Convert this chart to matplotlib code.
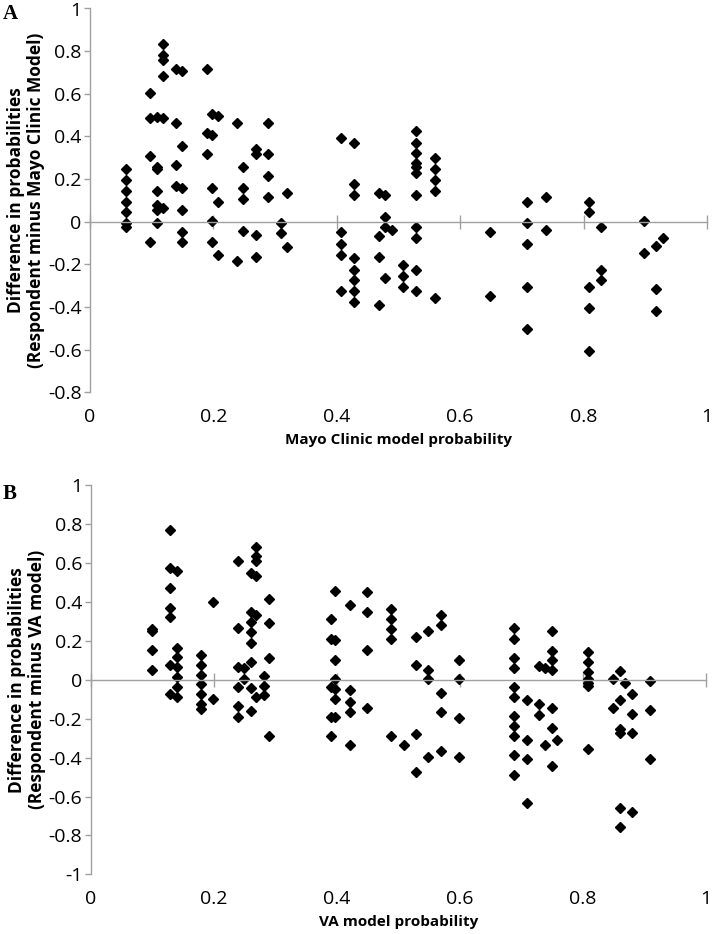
import matplotlib
matplotlib.use("Agg")
import matplotlib.pyplot as plt
import numpy as np

# ---------------- Panel A data (Mayo Clinic) ----------------
mayo_x = [0.058]*7 + [0.098]*4 + [0.108]*7 + [0.119]*6 + [0.139]*4 + [0.149]*6 \
    + [0.189]*3 + [0.197]*5 + [0.208]*3 + [0.238]*2 + [0.248]*4 + [0.269]*4 \
    + [0.289]*4 + [0.309]*2 + [0.319]*2 + [0.407]*5 + [0.428]*8 + [0.469]*4 \
    + [0.478]*4 + [0.489]*1 + [0.508]*3 + [0.529]*11 + [0.559]*5 + [0.649]*2 \
    + [0.709]*5 + [0.739]*2 + [0.808]*5 + [0.829]*3 + [0.898]*2 + [0.918]*3 + [0.929]*1
mayo_y = [0.245, 0.195, 0.144, 0.094, 0.044, -0.005, -0.026,
          0.605, 0.485, 0.308, -0.094,
          0.489, 0.258, 0.245, 0.144, 0.078, 0.055, -0.005,
          0.833, 0.781, 0.758, 0.685, 0.485, 0.063,
          0.716, 0.464, 0.266, 0.169,
          0.708, 0.355, 0.156, 0.055, -0.047, -0.094,
          0.716, 0.414, 0.316,
          0.505, 0.406, 0.156, 0.003, -0.094,
          0.496, 0.094, -0.156,
          0.464, -0.183,
          0.258, 0.156, 0.105, -0.044,
          0.339, 0.316, -0.062, -0.164,
          0.464, 0.316, 0.216, 0.117,
          -0.005, -0.055,
          0.133, -0.117,
          0.394, -0.047, -0.106, -0.156, -0.325,
          0.370, 0.175, 0.125, -0.172, -0.226, -0.275, -0.325, -0.376,
          0.133, -0.066, -0.164, -0.390,
          0.125, 0.024, -0.026, -0.266,
          -0.039,
          -0.203, -0.255, -0.306,
          0.425, 0.370, 0.324, 0.277, 0.258, 0.227, 0.125, -0.026, -0.075, -0.226, -0.325,
          0.297, 0.245, 0.195, 0.144, -0.356,
          -0.047, -0.347,
          0.094, -0.005, -0.103, -0.306, -0.503,
          0.114, -0.039,
          0.094, 0.044, -0.306, -0.406, -0.605,
          -0.026, -0.226, -0.275,
          0.003, -0.145,
          -0.114, -0.316, -0.417,
          -0.075]

# ---------------- Panel B data (VA) ----------------
va_x = [0.100]*4 + [0.129]*7 + [0.141]*7 + [0.179]*7 + [0.199]*2 + [0.240]*6 \
    + [0.249]*2 + [0.260]*8 + [0.269]*6 + [0.281]*3 + [0.290]*4 + [0.390]*5 \
    + [0.398]*7 + [0.421]*5 + [0.450]*4 + [0.489]*5 + [0.509]*1 + [0.529]*4 \
    + [0.549]*4 + [0.570]*5 + [0.599]*4 + [0.689]*11 + [0.709]*4 + [0.729]*3 \
    + [0.739]*2 + [0.750]*7 + [0.759]*1 + [0.808]*7 + [0.849]*2 + [0.860]*6 \
    + [0.869]*1 + [0.880]*4 + [0.909]*3
va_y = [0.26, 0.25, 0.15, 0.05,
        0.77, 0.575, 0.47, 0.37, 0.32, 0.075, -0.075,
        0.56, 0.165, 0.115, 0.064, 0.015, -0.036, -0.087,
        0.127, 0.075, 0.024, -0.024, -0.075, -0.125, -0.15,
        0.40, -0.10,
        0.61, 0.264, 0.067, -0.036, -0.134, -0.19,
        0.058, 0.004,
        0.546, 0.349, 0.298, 0.243, 0.19, 0.092, -0.044, -0.161,
        0.683, 0.635, 0.611, 0.534, 0.332, -0.087,
        0.021, -0.03, -0.079,
        0.413, 0.293, 0.113, -0.289,
        0.312, 0.209, -0.036, -0.19, -0.289,
        0.455, 0.204, 0.101, 0.003, -0.046, -0.10, -0.193,
        0.384, -0.055, -0.117, -0.168, -0.337,
        0.452, 0.349, 0.151, -0.147,
        0.365, 0.312, 0.26, 0.208, -0.289,
        -0.334,
        0.221, 0.074, -0.277, -0.476,
        0.251, 0.052, 0.002, -0.397,
        0.332, 0.281, -0.07, -0.167, -0.366,
        0.103, 0.002, -0.195, -0.397,
        0.266, 0.211, 0.114, 0.06, -0.039, -0.088, -0.188, -0.237, -0.289, -0.385, -0.487,
        -0.106, -0.308, -0.409, -0.632,
        0.072, -0.127, -0.18,
        0.06, -0.337,
        0.251, 0.149, 0.101, 0.048, -0.147, -0.248, -0.445,
        -0.308,
        0.144, 0.092, 0.041, 0.002, -0.015, -0.032, -0.357,
        0.002, -0.147,
        0.043, -0.106, -0.255, -0.275, -0.657, -0.755,
        -0.017,
        -0.075, -0.178, -0.275, -0.678,
        -0.008, -0.157, -0.406]

x_ticks = [0, 0.2, 0.4, 0.6, 0.8, 1]
x_ticklabels = ["0", "0.2", "0.4", "0.6", "0.8", "1"]
a_yticks = [-0.8, -0.6, -0.4, -0.2, 0, 0.2, 0.4, 0.6, 0.8, 1]
a_yticklabels = ["-0.8", "-0.6", "-0.4", "-0.2", "0", "0.2", "0.4", "0.6", "0.8", "1"]
b_yticks = [-1, -0.8, -0.6, -0.4, -0.2, 0, 0.2, 0.4, 0.6, 0.8, 1]
b_yticklabels = ["-1", "-0.8", "-0.6", "-0.4", "-0.2", "0", "0.2", "0.4", "0.6", "0.8", "1"]

FONT = ["Open Sans", "DejaVu Sans"]
plt.rcParams['font.family'] = FONT
AXC = "#a0a0a0"

fig = plt.figure(figsize=(7.12, 9.34), dpi=100)
W, H = 712.0, 934.0


def make_panel(rect, xs, ys, yticks, yticklabels, ylim, ylabel, xlabel, letter, letter_xy):
    ax = fig.add_axes(rect)
    ax.plot(xs, ys, linestyle="none", marker="D", ms=5.2, color="black", mec="black")
    ax.set_xlim(0, 1)
    ax.set_ylim(*ylim)
    for s in ["top", "right"]:
        ax.spines[s].set_visible(False)
    ax.spines["left"].set_color(AXC)
    ax.spines["left"].set_linewidth(1.0)
    ax.spines["bottom"].set_position(("data", 0))
    ax.spines["bottom"].set_color(AXC)
    ax.spines["bottom"].set_linewidth(1.0)
    ax.set_yticks(yticks)
    ax.set_yticklabels(yticklabels)
    ax.tick_params(axis="y", direction="out", length=4, width=1, color=AXC, pad=2,
                   labelsize=14, labelcolor="black")
    ax.set_xticks(x_ticks)
    ax.tick_params(axis="x", direction="inout", length=10, width=1, color=AXC,
                   labelbottom=False)
    sec = ax.secondary_xaxis(0)
    sec.spines["bottom"].set_visible(False)
    sec.set_xticks(x_ticks)
    sec.set_xticklabels(x_ticklabels)
    sec.tick_params(axis="x", length=0, pad=11, labelsize=14, labelcolor="black")
    sec.set_xlabel(xlabel, fontsize=11, fontweight="bold", labelpad=5)
    ax.set_ylabel(ylabel, fontsize=12.5, fontweight="bold", labelpad=2, linespacing=1.15)
    fig.text(letter_xy[0], letter_xy[1], letter, fontsize=15, fontweight="bold",
             family=["Liberation Serif", "DejaVu Serif"], ha="left", va="top")
    return ax


make_panel([90 / W, 1 - 392.3 / H, 617 / W, (392.3 - 8.5) / H], mayo_x, mayo_y,
           a_yticks, a_yticklabels, (-0.8, 1.0),
           "Difference in probabilities\n(Respondent minus Mayo Clinic Model)",
           "Mayo Clinic model probability", "A", (3 / W, 1 - 4 / H))
make_panel([90.7 / W, 1 - 874.4 / H, 615 / W, (874.4 - 485) / H], va_x, va_y,
           b_yticks, b_yticklabels, (-1.0, 1.0),
           "Difference in probabilities\n(Respondent minus VA model)",
           "VA model probability", "B", (3 / W, 1 - 484 / H))

fig.savefig("out.png", dpi=100)
